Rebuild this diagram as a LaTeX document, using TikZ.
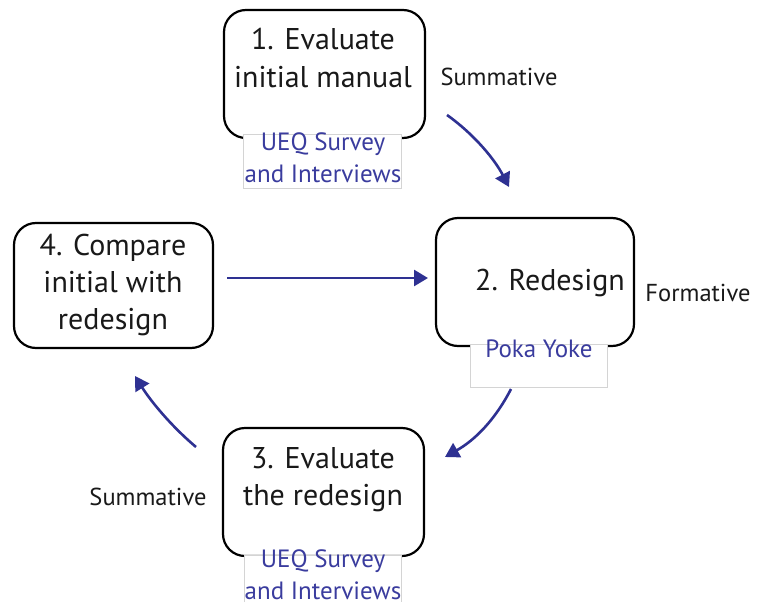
\documentclass[tikz,border=0pt]{standalone}
\usepackage{fontspec}
\setmainfont{PT Sans}
\usetikzlibrary{arrows.meta}
\definecolor{arrowblue}{HTML}{2E3192}
\definecolor{labelblue}{HTML}{3A3C9E}
\definecolor{boxgray}{HTML}{D4D4D4}
\begin{document}
\begin{tikzpicture}[x=1pt,y=-1pt,
  stage/.style={draw=black,line width=2.2pt,rounded corners=22pt,fill=white},
  method/.style={draw=boxgray,line width=0.8pt,fill=white},
  maintxt/.style={font=\fontsize{30}{37}\selectfont,align=center,text=black!90},
  bluetxt/.style={font=\fontsize{25}{32}\selectfont,align=center,text=labelblue},
  kind/.style={font=\fontsize{24.5}{28}\selectfont,text=black!90},
  flow/.style={draw=arrowblue,line width=2.6pt,-{Triangle[length=14pt,width=16pt]}}]
\useasboundingbox (0,0) rectangle (757,602);
% stage boxes
\draw[stage] (224,10) rectangle (425,138);
\draw[stage] (436,218) rectangle (634,346);
\draw[stage] (223,428) rectangle (424,556);
\draw[stage] (14,223) rectangle (213,348);
% method boxes
\node[method,minimum width=158pt,minimum height=54pt] (m1) at (322.5,161) {};
\node[method,minimum width=137pt,minimum height=43pt] (m2) at (539,366) {};
\draw[boxgray,line width=0.8pt,fill=white] (244,602) -- (244,555) -- (401,555) -- (401,602);
% stage texts
\node[maintxt] (s1) at (323,58) {1. Evaluate\\initial manual};
\node[maintxt] (s2) at (550,283) {2. Redesign};
\node[maintxt] (s3) at (323,480) {3. Evaluate\\the redesign};
\node[maintxt] (s4) at (113,285) {4. Compare\\initial with\\redesign};
% method texts
\node[bluetxt] (t1) at (323,158) {UEQ Survey\\and Interviews};
\node[bluetxt] (t2) at (539,349) {Poka Yoke};
\node[bluetxt] (t3) at (323,575) {UEQ Survey\\and Interviews};
% kind labels
\node[kind] (k1) at (499,77) {Summative};
\node[kind] (k2) at (698,293) {Formative};
\node[kind] (k3) at (148,497) {Summative};
% arrows
\coordinate (a1s) at (447,115);
\coordinate (a1e) at (509,187);
\coordinate (a2s) at (511,389);
\coordinate (a2e) at (445,457);
\coordinate (a3s) at (196,447);
\coordinate (a3e) at (135,376);
\coordinate (a4s) at (227,278);
\coordinate (a4e) at (428,278);
\draw[flow] (a1s) .. controls (475,135) and (495,160) .. (a1e);
\draw[flow] (a2s) .. controls (495,420) and (475,440) .. (a2e);
\draw[flow] (a3s) .. controls (170,425) and (150,400) .. (a3e);
\draw[flow] (a4s) -- (a4e);
\end{tikzpicture}
\end{document}
